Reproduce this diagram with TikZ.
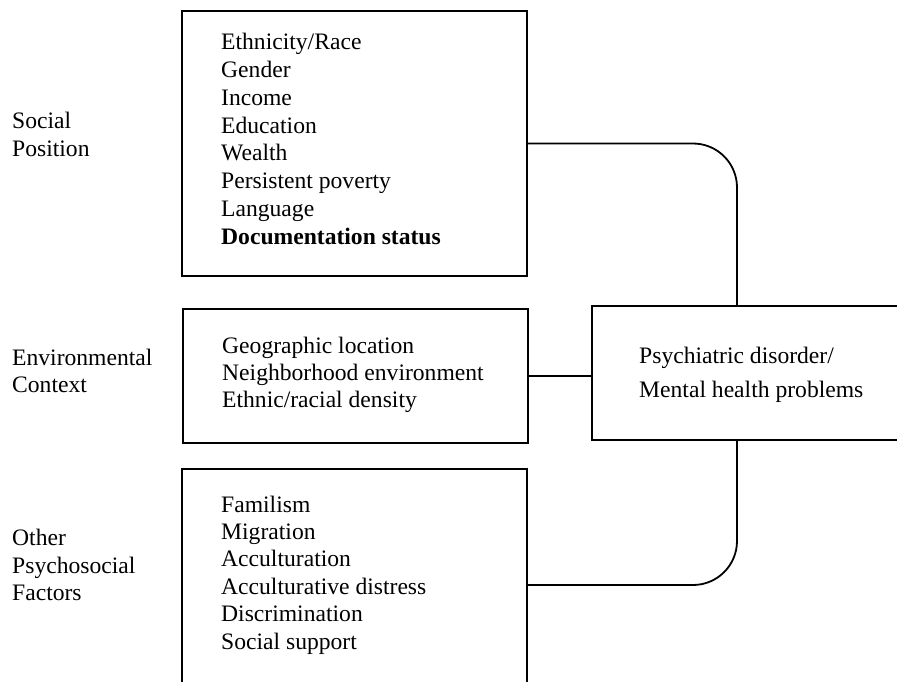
\documentclass[tikz,border=0pt]{standalone}
\usepackage{fontspec}
\setmainfont{Liberation Serif}
\begin{document}
\begin{tikzpicture}[x=1pt,y=-1pt,
  box/.style={draw, line width=1.5pt, rectangle, inner sep=0pt, outer sep=0pt, anchor=north west},
  conn/.style={line width=1.8pt},
  lbl/.style={anchor=base west, inner sep=0pt, font=\fontsize{23.6}{27.6}\selectfont}]
\useasboundingbox (0,0) rectangle (897,682);
\clip (0,0) rectangle (897,682);

% boxes
\node[box, minimum width=345pt, minimum height=265pt] (b1) at (182,11) {};
\node[box, minimum width=345pt, minimum height=134pt] (b2) at (183,309) {};
\node[box, minimum width=345pt, minimum height=232pt] (b3) at (182,469) {};
\node[box, minimum width=330pt, minimum height=134pt] (rb) at (592,306) {};

% group labels
\node[lbl] (g1a) at (12,129) {Social};
\node[lbl] (g1b) at (12,157) {Position};
\node[lbl] (g2a) at (12,365) {Environmental};
\node[lbl] (g2b) at (12,392) {Context};
\node[lbl] (g3a) at (12,545) {Other};
\node[lbl] (g3b) at (12,573) {Psychosocial};
\node[lbl] (g3c) at (12,600) {Factors};

% social position items
\foreach \t [count=\i from 0] in {Ethnicity/Race, Gender, Income, Education, Wealth, Persistent poverty, Language}
  \node[lbl] (s\i) at (221, 50+27.7*\i) {\t};
\node[lbl] (s7) at (221, 244) {\textbf{Documentation status}};

% environmental context items
\foreach \t [count=\i from 0] in {Geographic location, Neighborhood environment, Ethnic/racial density}
  \node[lbl] (e\i) at (222, 353+27*\i) {\t};

% other psychosocial items
\foreach \t [count=\i from 0] in {Familism, Migration, Acculturation, Acculturative distress, Discrimination, Social support}
  \node[lbl] (p\i) at (221, 512+27.4*\i) {\t};

% outcome
\node[lbl] (o1) at (639,363) {Psychiatric disorder/};
\node[lbl] (o2) at (639,397) {Mental health problems};

% connectors
\coordinate (tj) at (737,306);
\coordinate (bj) at (737,440);
\draw[conn, rounded corners=44pt] (b1.east) -| (tj);
\draw[conn] (b2.east) -- (b2.east -| rb.west);
\draw[conn, rounded corners=44pt] (b3.east) -| (bj);
\end{tikzpicture}
\end{document}
